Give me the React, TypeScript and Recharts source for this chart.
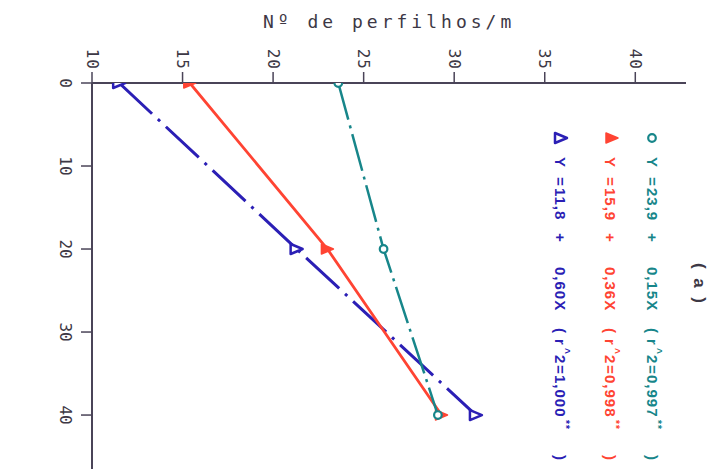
import { ScatterChart, Scatter, XAxis, YAxis } from "recharts";

// depth (vertical axis) and Nº de perfilhos/m (horizontal axis)
const depths = [0, 20, 40];
const greenValues = [23.6, 26.1, 29.1];
const redValues = [15.4, 23.0, 29.3];
const blueValues = [11.5, 21.3, 31.2];

const xTicks = [10, 15, 20, 25, 30, 35, 40];
const yTicks = [0, 10, 20, 30, 40];

const titleText = "Nº de perfilhos/m";
const panelLabel = "(a)";

const legendIntercepts = ["23,9", "15,9", "11,8"];
const legendSlopes = ["0,15X", "0,36X", "0,60X"];
const legendR2 = ["0,997", "0,998", "1,000"];

const COLORS = {
  green: "#17868a",
  red: "#ff4433",
  blue: "#2b1fb5",
  axis: "#4a4458",
  text: "#3d3845",
};

type MarkerKind = "circle" | "filledTriangle" | "openTriangle";

const series = [
  { key: "blue", values: blueValues, color: COLORS.blue, dash: "45 8 3 8", width: 3, marker: "openTriangle" as MarkerKind },
  { key: "red", values: redValues, color: COLORS.red, dash: undefined, width: 2.8, marker: "filledTriangle" as MarkerKind },
  { key: "green", values: greenValues, color: COLORS.green, dash: "38 6 3 6", width: 2.5, marker: "circle" as MarkerKind },
];

// legend columns: text baseline x, symbol center x
const legendColumns = [
  { color: COLORS.green, marker: "circle" as MarkerKind, baseX: 647, symX: 652 },
  { color: COLORS.red, marker: "filledTriangle" as MarkerKind, baseX: 605, symX: 612 },
  { color: COLORS.blue, marker: "openTriangle" as MarkerKind, baseX: 555, symX: 561 },
];

const toPoints = (values: number[]) => depths.map((d, i) => ({ x: values[i], y: d }));

function Marker({ cx, cy, kind, color }: { cx: number; cy: number; kind: MarkerKind; color: string }) {
  if (kind === "circle") {
    return <circle cx={cx} cy={cy} r={3.8} fill="#fff" stroke={color} strokeWidth={2.2} />;
  }
  // triangles point right (figure is rotated)
  const pts = `${cx - 6},${cy - 5} ${cx - 6},${cy + 5} ${cx + 6},${cy}`;
  if (kind === "filledTriangle") {
    return <polygon points={pts} fill={color} stroke={color} strokeWidth={1.5} strokeLinejoin="round" />;
  }
  return <polygon points={pts} fill="#fff" stroke={color} strokeWidth={2.5} strokeLinejoin="round" />;
}

function XTick({ x, y, payload }: any) {
  return (
    <text
      x={x}
      y={y}
      transform={`rotate(90, ${x}, ${y})`}
      textAnchor="end"
      dominantBaseline="central"
      fontFamily="DejaVu Sans Mono"
      fontSize={16}
      letterSpacing={1}
      fill={COLORS.text}
    >
      {payload.value}
    </text>
  );
}

function YTick({ x, y, payload }: any) {
  const tx = x - 14;
  return (
    <text
      x={tx}
      y={y}
      transform={`rotate(90, ${tx}, ${y})`}
      textAnchor="middle"
      dominantBaseline="central"
      fontFamily="DejaVu Sans Mono"
      fontSize={16}
      fill={COLORS.text}
    >
      {payload.value}
    </text>
  );
}

function LegendBlock() {
  return (
    <g>
      {legendColumns.map((col, i) => (
        <g key={i}>
          <Marker cx={col.symX} cy={138} kind={col.marker} color={col.color} />
          <text
            transform={`translate(${col.baseX},0) rotate(90)`}
            fill={col.color}
            fontFamily="Liberation Sans"
            fontWeight="bold"
            fontSize={15}
            letterSpacing={1}
          >
            <tspan x={157} y={0}>Y</tspan>
            <tspan x={177} y={0}>=</tspan>
            <tspan x={188} y={0}>{legendIntercepts[i]}</tspan>
            <tspan x={233} y={0}>+</tspan>
            <tspan x={267} y={0}>{legendSlopes[i]}</tspan>
            <tspan x={328} y={0}>(</tspan>
            <tspan x={339} y={0}>r</tspan>
            <tspan x={348} y={-7} fontSize={10}>^</tspan>
            <tspan x={355} y={0}>2</tspan>
            <tspan x={365} y={0}>=</tspan>
            <tspan x={375} y={0}>{legendR2[i]}</tspan>
            <tspan x={420} y={-7} fontSize={10}>**</tspan>
            <tspan x={455} y={0}>)</tspan>
          </text>
        </g>
      ))}
      <text
        transform="translate(694,0) rotate(90)"
        fill={COLORS.text}
        fontFamily="Liberation Sans"
        fontWeight={600}
        fontSize={17}
      >
        <tspan x={263} y={0} textLength={40} lengthAdjust="spacing">{panelLabel}</tspan>
      </text>
    </g>
  );
}

export default function App() {
  return (
    <div style={{ position: "absolute", left: 0, top: 0, width: 718, height: 469, background: "#fff" }}>
      <ScatterChart width={718} height={469} margin={{ top: 0, right: 32, bottom: 0, left: 0 }}>
        <XAxis
          type="number"
          dataKey="x"
          orientation="top"
          domain={[10, 42.8]}
          ticks={xTicks}
          allowDataOverflow
          height={83}
          tickSize={11}
          tickMargin={2}
          axisLine={{ stroke: COLORS.axis, strokeWidth: 2 }}
          tickLine={{ stroke: COLORS.axis, strokeWidth: 1.5 }}
          tick={<XTick />}
        />
        <YAxis
          type="number"
          dataKey="y"
          domain={[0, 46.5]}
          reversed
          ticks={yTicks}
          allowDataOverflow
          width={92}
          tickSize={11}
          tickMargin={2}
          axisLine={{ stroke: COLORS.axis, strokeWidth: 2 }}
          tickLine={{ stroke: COLORS.axis, strokeWidth: 1.5 }}
          tick={<YTick />}
        />
        {series.map((s) => (
          <Scatter
            key={s.key}
            data={toPoints(s.values)}
            fill={s.color}
            isAnimationActive={false}
            line={{ stroke: s.color, strokeWidth: s.width, strokeDasharray: s.dash }}
            shape={(p: any) => <Marker cx={p.cx} cy={p.cy} kind={s.marker} color={s.color} />}
          />
        ))}
        <text
          x={263}
          y={28}
          fontFamily="DejaVu Sans Mono"
          fontSize={18}
          letterSpacing={4}
          fill={COLORS.text}
        >
          {titleText}
        </text>
        <LegendBlock />
      </ScatterChart>
    </div>
  );
}
